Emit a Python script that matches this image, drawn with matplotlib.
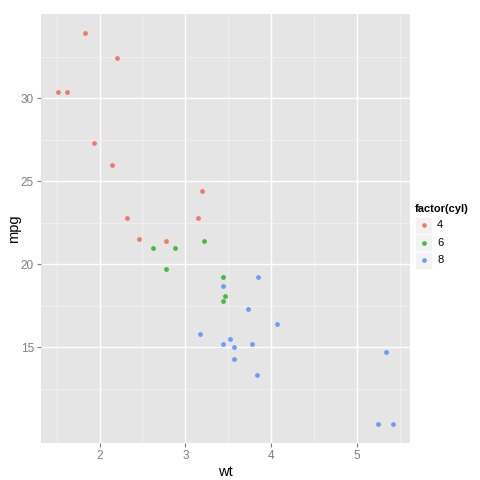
import matplotlib
matplotlib.use("Agg")
import matplotlib.pyplot as plt
from matplotlib.patches import Rectangle
from matplotlib.lines import Line2D

plt.rcParams['font.family'] = ['Liberation Sans', 'DejaVu Sans']

# mtcars: weight, mpg, cylinders
wt = [2.620, 2.875, 2.320, 3.215, 3.440, 3.460, 3.570, 3.190, 3.150, 3.440,
      3.440, 4.070, 3.730, 3.780, 5.250, 5.424, 5.345, 2.200, 1.615, 1.835,
      2.465, 3.520, 3.435, 3.840, 3.845, 1.935, 2.140, 1.513, 3.170, 2.770,
      3.570, 2.780]
mpg = [21.0, 21.0, 22.8, 21.4, 18.7, 18.1, 14.3, 24.4, 22.8, 19.2,
       17.8, 16.4, 17.3, 15.2, 10.4, 10.4, 14.7, 32.4, 30.4, 33.9,
       21.5, 15.5, 15.2, 13.3, 19.2, 27.3, 26.0, 30.4, 15.8, 19.7,
       15.0, 21.4]
cyl = [6, 6, 4, 6, 8, 6, 8, 4, 4, 6,
       6, 8, 8, 8, 8, 8, 8, 4, 4, 4,
       4, 8, 8, 8, 8, 4, 4, 4, 8, 6,
       8, 4]
levels = [4, 6, 8]
colors = {4: "#EE7A6E", 6: "#4AB843", 8: "#6A9CF8"}

fig = plt.figure(figsize=(4.8, 4.8), dpi=100)
ax = fig.add_axes([41/480, 37/480, 369/480, 429/480])
ax.set_facecolor("#E5E5E5")

for lv in levels:
    xs = [x for x, c in zip(wt, cyl) if c == lv]
    ys = [y for y, c in zip(mpg, cyl) if c == lv]
    ax.scatter(xs, ys, s=12, color=colors[lv], linewidths=0, zorder=3)

xr = max(wt) - min(wt)
yr = max(mpg) - min(mpg)
ax.set_xlim(min(wt) - 0.05*xr, max(wt) + 0.05*xr)
ax.set_ylim(min(mpg) - 0.05*yr, max(mpg) + 0.05*yr)

ax.set_xticks([2, 3, 4, 5])
ax.set_yticks([15, 20, 25, 30])
ax.set_xticks([1.5, 2.5, 3.5, 4.5, 5.5], minor=True)
ax.set_yticks([12.5, 17.5, 22.5, 27.5, 32.5], minor=True)
ax.grid(which="major", color="white", linewidth=1.0)
ax.grid(which="minor", color="#F2F2F2", linewidth=0.6)
ax.set_axisbelow(True)
for sp in ax.spines.values():
    sp.set_visible(False)
ax.tick_params(which="major", length=3, width=0.8, color="#7F7F7F",
               labelcolor="#7F7F7F", labelsize=8.5, pad=2)
ax.tick_params(which="minor", length=0)
ax.set_xlabel("wt", fontsize=10.5, labelpad=2)
ax.set_ylabel("mpg", fontsize=10.5, labelpad=0)

# legend drawn by hand, ggplot style
fig.text(415/480, 1 - 209/480, "factor(cyl)", fontsize=8, fontweight="bold",
         va="center", ha="left")
for i, lv in enumerate(levels):
    top = 217 + i*17.3
    fig.patches.append(Rectangle((415/480, 1 - (top + 17)/480), 17/480, 17/480,
                                 transform=fig.transFigure, facecolor="#F2F2F2",
                                 edgecolor="white", linewidth=0.6))
    fig.lines.append(Line2D([423.5/480], [1 - (top + 8.5)/480], marker="o",
                            markersize=3.4, color=colors[lv], linewidth=0,
                            markeredgewidth=0, transform=fig.transFigure))
    fig.text(437/480, 1 - (top + 8.5)/480, str(lv), fontsize=8,
             va="center", ha="left")

fig.savefig("out.png", dpi=100)
